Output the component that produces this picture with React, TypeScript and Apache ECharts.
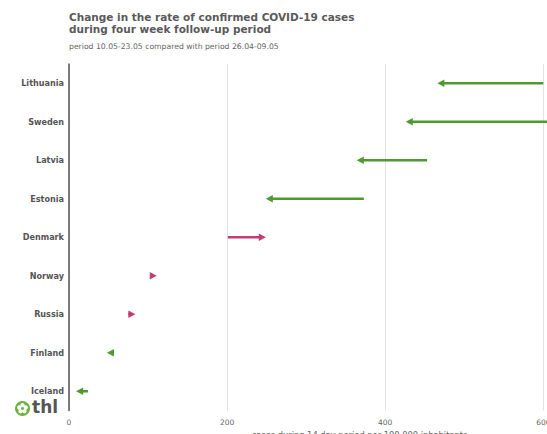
import React, { useEffect, useRef } from "react";
import * as echarts from "echarts";

const countries = ["Lithuania", "Sweden", "Latvia", "Estonia", "Denmark", "Norway", "Russia", "Finland", "Iceland"];
const previousPeriod = [600, 650, 453, 373, 201, 104, 75, 57, 24];
const currentPeriod = [466, 426, 364, 249, 249, 111, 84, 48, 9];
const xTicks = [0, 200, 400, 600];

const GREEN = "#4f9a2e";
const PINK = "#c13d72";
const FONT = "DejaVu Sans";

export default function App() {
  const ref = useRef<HTMLDivElement>(null);
  useEffect(() => {
    if (!ref.current) return;
    const chart = echarts.init(ref.current, undefined, { renderer: "svg" });
    const data = countries.map((c, i) => [previousPeriod[i], currentPeriod[i], i]);
    chart.setOption({
      animation: false,
      backgroundColor: "#ffffff",
      textStyle: { fontFamily: FONT },
      title: {
        text: "Change in the rate of confirmed COVID-19 cases\nduring four week follow-up period",
        subtext: "period 10.05-23.05 compared with period 26.04-09.05",
        left: 64,
        top: 6,
        itemGap: 7,
        textStyle: { fontFamily: FONT, fontSize: 10.5, fontWeight: "bold", color: "#5a5a5a", lineHeight: 12 },
        subtextStyle: { fontFamily: FONT, fontSize: 7.7, color: "#666666" },
      },
      grid: { left: 69, top: 64, width: 581, height: 346.5, outerBoundsMode: "none", containLabel: false },
      xAxis: {
        type: "value",
        min: 0,
        max: 735,
        interval: 200,
        name: "cases during 14 day period per 100 000 inhabitants",
        nameLocation: "middle",
        nameGap: 18,
        nameTextStyle: { fontFamily: FONT, fontSize: 8.3, color: "#666666" },
        axisLine: { show: false },
        axisTick: { show: false },
        axisLabel: {
          fontFamily: FONT,
          fontSize: 7.5,
          color: "#666666",
          margin: 8,
          formatter: (v: number) => (xTicks.includes(v) ? String(v) : ""),
        },
        splitLine: { show: true, lineStyle: { color: "#e3e3e3", width: 1 } },
      },
      yAxis: {
        type: "category",
        data: countries,
        inverse: true,
        axisLine: { show: true, lineStyle: { color: "#555555", width: 1.5 } },
        axisTick: { show: false },
        axisLabel: { fontFamily: FONT, fontSize: 8.1, fontWeight: "bold", color: "#555555", margin: 5 },
        splitLine: { show: false },
      },
      series: [
        {
          type: "custom",
          data,
          clip: false,
          renderItem: (params: any, api: any) => {
            const s = api.value(0);
            const e = api.value(1);
            const c = api.value(2);
            const p0 = api.coord([s, c]);
            const p1 = api.coord([e, c]);
            const dir = e >= s ? 1 : -1;
            const color = dir > 0 ? PINK : GREEN;
            const head = 7;
            const hw = 3.8;
            const bx = p1[0] - dir * head;
            const children: any[] = [];
            if ((bx - p0[0]) * dir > 0) {
              children.push({
                type: "line",
                shape: { x1: p0[0], y1: p0[1], x2: bx + dir * 1, y2: p1[1] },
                style: { stroke: color, lineWidth: 2.5 },
              });
            }
            children.push({
              type: "polygon",
              shape: { points: [[p1[0], p1[1]], [bx, p1[1] - hw], [bx, p1[1] + hw]] },
              style: { fill: color },
            });
            return { type: "group", children };
          },
        },
      ],
      graphic: [
        {
          type: "group",
          left: 15,
          top: 401,
          children: [
            { type: "circle", shape: { cx: 7.5, cy: 7.5, r: 7.5 }, style: { fill: "#6cb43f" } },
            ...[0, 1, 2, 3, 4].map((k) => {
              const a = -Math.PI / 2 + (k * 2 * Math.PI) / 5;
              return {
                type: "circle",
                shape: { cx: 7.5 + Math.cos(a) * 3.3, cy: 7.5 + Math.sin(a) * 3.3, r: 2.2 },
                style: { fill: "#ffffff" },
              };
            }),
            { type: "circle", shape: { cx: 7.5, cy: 7.5, r: 1.3 }, style: { fill: "#6cb43f" } },
          ],
        },
        {
          type: "text",
          left: 32,
          top: 398,
          style: { text: "thl", fontFamily: FONT, fontSize: 17, fontWeight: "bold", fill: "#555555" },
        },
      ],
    });
    return () => chart.dispose();
  }, []);
  return (
    <div style={{ position: "fixed", left: 0, top: 0, width: 547, height: 434, overflow: "hidden", background: "#fff" }}>
      <div ref={ref} style={{ width: 700, height: 434 }} />
    </div>
  );
}
